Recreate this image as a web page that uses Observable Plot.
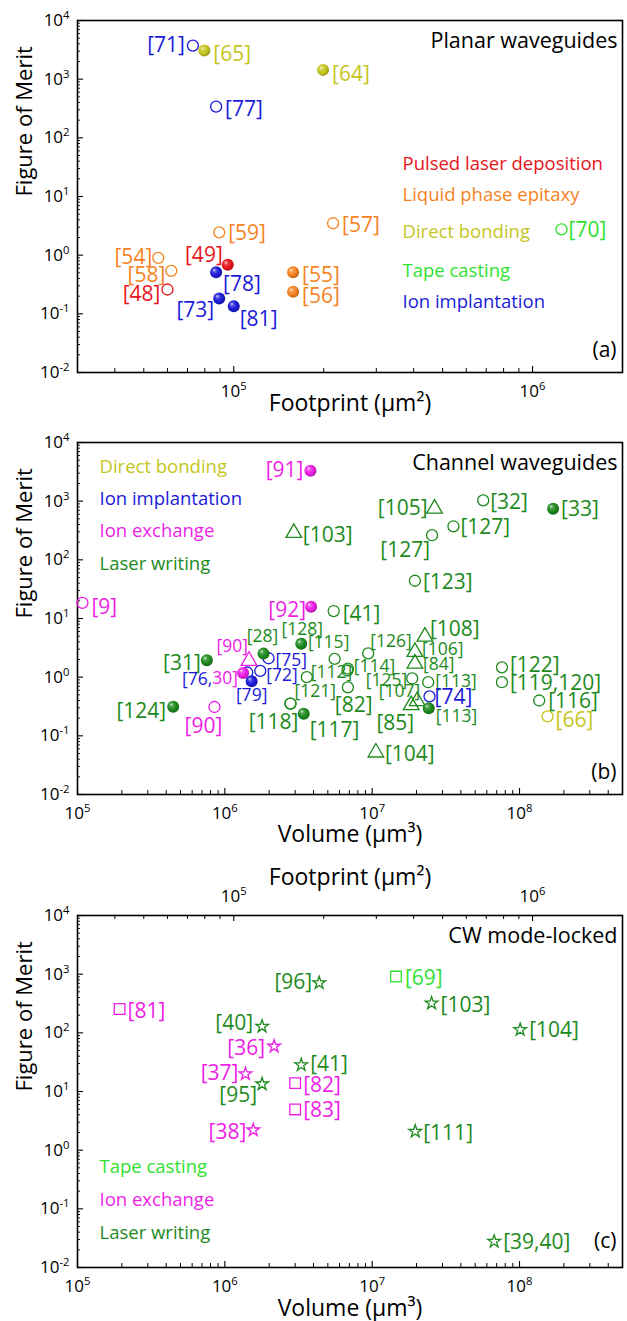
<!DOCTYPE html>
<html>
<head>
<meta charset="utf-8">
<script src="https://cdn.jsdelivr.net/npm/d3@7"></script>
<script src="https://cdn.jsdelivr.net/npm/@observablehq/plot@0.6"></script>
<style>
  html, body { margin: 0; padding: 0; background: #fff; }
  #wrap { width: 627px; }
  #wrap svg { display: block; }
</style>
</head>
<body>
<div id="wrap"></div>
<script>
// ---------------- colours per fabrication method ----------------
const methodColor = {
  PLD: "#e8141c", // Pulsed laser deposition
  LPE: "#f5831f", // Liquid phase epitaxy
  DB:  "#c5c51c", // Direct bonding
  TC:  "#2fe22f", // Tape casting
  II:  "#1a1ad8", // Ion implantation
  IE:  "#ee1ee6", // Ion exchange
  LW:  "#1d8a1d"  // Laser writing
};

// ---------------- panel (a): planar waveguides ----------------
const aRefs      = ["[71]","[65]","[64]","[77]","[57]","[59]","[70]","[54]","[49]","[58]","[78]","[55]","[48]","[56]","[73]","[81]"];
const aFootprint = [7.3e4, 7.97e4, 1.99e5, 8.73e4, 2.15e5, 8.94e4, 1.25e6, 5.59e4, 9.55e4, 6.18e4, 8.73e4, 1.58e5, 6.0e4, 1.58e5, 8.94e4, 1.0e5];
const aFOM       = [3740, 3076, 1440, 340, 3.5, 2.44, 2.75, 0.90, 0.685, 0.54, 0.51, 0.51, 0.26, 0.237, 0.183, 0.135];
const aMethod    = ["II","DB","DB","II","LPE","LPE","TC","LPE","PLD","LPE","II","LPE","PLD","LPE","II","II"];
const aMarker    = ["circle","sphere","sphere","circle","circle","circle","circle","circle","sphere","circle","sphere","sphere","circle","sphere","sphere","sphere"];
const aLegend    = [["Pulsed laser deposition","PLD"],["Liquid phase epitaxy","LPE"],["Direct bonding","DB"],["Tape casting","TC"],["Ion implantation","II"]];

// ---------------- panel (b): channel waveguides ----------------
const bRefs   = ["[9]","[91]","[105]","[32]","[33]","[103]","[127]","[127]","[123]","[92]","[41]","[108]","[106]","[84]","[126]","[128]","[115]","[28]","[75]","[90]","[31]","[72]","[76,","30]","[79]","[114]","","[112]","[82]","[125]","[113]","[122]","[119,120]","[74]","[107]","[85]","[113]","[116]","[66]","[121]","[118]","[117]","[124]","[90]","[104]"];
const bVolume = [1.08e5, 3.81e6, 2.65e7, 5.67e7, 1.69e8, 2.94e6, 3.56e7, 2.55e7, 1.95e7, 3.85e6, 5.48e6, 2.28e7, 1.95e7, 1.95e7, 9.4e6, 3.3e6, 5.56e6, 1.83e6, 1.98e6, 1.46e6, 7.55e5, 1.74e6, 1.42e6, 1.33e6, 1.52e6, 6.84e6, 6.8e6, 3.6e6, 6.84e6, 1.87e7, 2.4e7, 7.6e7, 7.6e7, 2.45e7, 2.02e7, 1.84e7, 2.42e7, 1.36e8, 1.55e8, 2.79e6, 2.79e6, 3.43e6, 4.46e5, 8.5e5, 1.06e7];
const bFOM    = [18.5, 3300, 745, 1030, 745, 288, 373, 263, 44, 15.8, 13.4, 4.9, 2.7, 1.7, 2.55, 3.7, 2.05, 2.52, 2.1, 1.9, 1.95, 1.28, 1.2, 1.18, 0.85, 1.4, 1.3, 1.0, 0.67, 0.95, 0.82, 1.47, 0.82, 0.47, 0.39, 0.334, 0.295, 0.40, 0.215, 0.355, 0.355, 0.238, 0.313, 0.31, 0.052];
const bMethod = ["IE","IE","LW","LW","LW","LW","LW","LW","LW","IE","LW","LW","LW","LW","LW","LW","LW","LW","II","IE","LW","II","II","IE","II","LW","LW","LW","LW","LW","LW","LW","LW","II","LW","LW","LW","LW","DB","LW","LW","LW","LW","IE","LW"];
const bMarker = ["circle","sphere","triangle","circle","sphere","triangle","circle","circle","circle","sphere","circle","triangle","triangle","triangle","circle","sphere","circle","sphere","circle","triangle","sphere","circle","circle","sphere","sphere","circle","circle","circle","circle","circle","circle","circle","circle","circle","triangle","triangle","sphere","circle","circle","circle","circle","sphere","sphere","circle","triangle"];
const bLegend = [["Direct bonding","DB"],["Ion implantation","II"],["Ion exchange","IE"],["Laser writing","LW"]];

// ---------------- panel (c): CW mode-locked ----------------
const cRefs   = ["[69]","[96]","[81]","[103]","[104]","[40]","[36]","[41]","[37]","[95]","[82]","[83]","[38]","[111]","[39,40]"];
const cVolume = [1.45e7, 4.37e6, 1.93e5, 2.53e7, 1.01e8, 1.79e6, 2.16e6, 3.3e6, 1.38e6, 1.79e6, 3.0e6, 3.0e6, 1.56e6, 1.96e7, 6.73e7];
const cFOM    = [910, 710, 255, 319, 113, 129, 58.9, 28.3, 19.9, 13.4, 13.9, 4.95, 2.2, 2.09, 0.0277];
const cMethod = ["TC","LW","IE","LW","LW","LW","IE","LW","IE","LW","IE","IE","IE","LW","LW"];
const cMarker = ["square","star","square","star","star","star","star","star","star","star","square","square","star","star","star"];
const cLegend = [["Tape casting","TC"],["Ion exchange","IE"],["Laser writing","LW"]];

// axis tick label exponents (major decades)
const fomDecades = [-2, -1, 0, 1, 2, 3, 4];

// ---------------- layout (label offsets in px: dx, dy, anchor, size "s" = small) ----------------
const aLabelAt = [[-8,0,"end"],[9,4,"start"],[9,4,"start"],[9,3,"start"],[9,2,"start"],[9,1,"start"],[7,1,"start"],[-6,-1,"end"],[-5,-10,"end"],[-6,4,"end"],[7,12,"start"],[9,3,"start"],[-7,5,"end"],[9,4,"start"],[-5,12,"end"],[6,13,"start"]];
const bLabelAt = [[9,4,"start"],[-7,0,"end"],[-7,0,"end"],[7,2,"start"],[8,1,"start"],[9,2,"start"],[7,1,"start"],[-2,15,"end"],[8,2,"start"],[-5,3,"end"],[9,3,"start"],[5,-7,"start"],
  [7,-2,"start","s"],[8,1,"start","s"],[2,-12,"start","s"],[1,-14,"middle","s"],[-6,-16,"middle","s"],[-1,-17,"middle","s"],[7,2,"start","s"],[-1,-14,"end","s"],
  [-6,3,"end"],[6,5,"start","s"],[-35,7,"end","s"],[-5,5,"end","s"],[0,14,"middle","s"],[6,-2,"start","s"],[0,0,"start"],[4,-5,"start","s"],[-13,18,"start"],[-5,2,"end","s"],[7,-1,"start","s"],
  [8,-2,"start"],[8,1,"start"],[5,1,"start"],[3,-10,"end","s"],[3,18,"end"],[7,8,"start","s"],[9,1,"start"],[8,4,"start"],[4,-12,"start","s"],[8,19,"end"],[6,17,"start"],[-7,5,"end"],[-11,19,"middle"],[9,2,"start"]];
const cLabelAt = [[9,2,"start"],[-7,-1,"end"],[8,2,"start"],[9,2,"start"],[9,1,"start"],[-9,-3,"end"],[-9,2,"end"],[9,-1,"start"],[-7,-1,"end"],[-5,11,"end"],[8,2,"start"],[8,1,"start"],[-7,2,"end"],[8,2,"start"],[9,1,"start"]];

const FONT = "Open Sans";
const W = 627, ML = 77, MR = 5, FRAME_H = 352;
const FRAME_W = W - ML - MR;
const LABEL_SIZE = 21, LABEL_SIZE_SMALL = 17.5;
const SYMBOL_R = {circle: 5.5, triangle: 5.8, square: 6, star: 4};

function rowsOf(refs, xs, ys, methods, markers, labelAt) {
  return refs.map((r, i) => ({label: r, x: xs[i], y: ys[i], method: methods[i], shape: markers[i], lab: labelAt[i]}));
}

function logTicks([lo, hi]) {
  const major = [], minor = [];
  for (let k = Math.floor(Math.log10(lo)); k <= Math.ceil(Math.log10(hi)); k++) {
    for (let m = 1; m <= 9; m++) {
      const v = m * Math.pow(10, k);
      if (v < lo * 0.999 || v > hi * 1.001) continue;
      (m === 1 ? major : minor).push(v);
    }
  }
  return {major, minor};
}

const exp10 = d => "10^" + Math.round(Math.log10(d));

function gradientDefs(prefix) {
  return Object.entries(methodColor).map(([m, c]) => {
    const hi = d3.interpolateRgb(c, "#fff")(0.85);
    const mid = d3.interpolateRgb(c, "#fff")(0.22);
    const dark = d3.color(c).darker(0.9).formatHex();
    return `<radialGradient id="${prefix}-${m}" cx="0.45" cy="0.45" r="0.6" fx="0.33" fy="0.3">
      <stop offset="0" stop-color="${hi}"/><stop offset="0.25" stop-color="${mid}"/>
      <stop offset="0.6" stop-color="${c}"/><stop offset="1" stop-color="${dark}"/></radialGradient>`;
  }).join("");
}

function pointMarks(rows, prefix) {
  const marks = [];
  for (const shape of ["circle", "triangle", "square", "star", "sphere"]) {
    for (const m of Object.keys(methodColor)) {
      const sub = rows.filter(d => d.shape === shape && d.method === m);
      if (!sub.length) continue;
      if (shape === "sphere") {
        marks.push(Plot.dot(sub, {x: "x", y: "y", r: 6, fill: `url(#${prefix}-${m})`, stroke: "none"}));
      } else {
        marks.push(Plot.dot(sub, {x: "x", y: "y", symbol: shape, r: SYMBOL_R[shape], fill: "none", stroke: methodColor[m], strokeWidth: 1.3}));
      }
    }
  }
  return marks;
}

function labelMarks(rows) {
  return rows.filter(d => d.label).map(d => Plot.text([d], {
    x: "x", y: "y", text: "label", dx: d.lab[0], dy: d.lab[1], textAnchor: d.lab[2],
    lineAnchor: "middle", fill: methodColor[d.method],
    fontSize: d.lab[3] === "s" ? LABEL_SIZE_SMALL : LABEL_SIZE
  }));
}

function supify(svg) {
  d3.select(svg).selectAll("text").each(function () {
    const m = /^10\^(-?\d+)$/.exec(this.textContent);
    if (!m) return;
    while (this.firstChild) this.removeChild(this.firstChild);
    this.appendChild(document.createTextNode("10"));
    const ts = document.createElementNS("http://www.w3.org/2000/svg", "tspan");
    ts.setAttribute("dy", "-0.62em");
    ts.setAttribute("font-size", "0.66em");
    ts.textContent = m[1];
    this.appendChild(ts);
  });
}

function panel(cfg) {
  const {rows, xDomain, height, marginTop, title, tag, tagDy, legend, legendDx, legendDy, xLabel, xLabelDy, topAxis, prefix} = cfg;
  const marginBottom = height - marginTop - FRAME_H;
  const yDomain = [1e-2, 1e4];
  const xt = logTicks(xDomain), yt = logTicks(yDomain);
  const marks = [
    Plot.frame({stroke: "#000", strokeWidth: 1.6}),
    Plot.ruleX(xt.major, {x: d => d, insetTop: FRAME_H - 6, stroke: "#000", strokeWidth: 1.1}),
    Plot.ruleX(xt.minor, {x: d => d, insetTop: FRAME_H - 4, stroke: "#000", strokeWidth: 1}),
    Plot.ruleY(yt.major, {y: d => d, insetRight: FRAME_W - 6, stroke: "#000", strokeWidth: 1.1}),
    Plot.ruleY(yt.minor, {y: d => d, insetRight: FRAME_W - 3, stroke: "#000", strokeWidth: 0.9}),
    Plot.axisX({ticks: xt.major, tickSize: 0, tickPadding: 12, tickFormat: exp10, fontSize: 17, label: null}),
    Plot.axisY({ticks: fomDecades.map(k => Math.pow(10, k)), tickSize: 0, tickPadding: 8, tickFormat: exp10, fontSize: 17, label: null}),
    Plot.text(["Figure of Merit"], {frameAnchor: "left", dx: -53, rotate: -90, fontSize: 22, fill: "#000"}),
    Plot.text([xLabel], {frameAnchor: "bottom", dy: xLabelDy, lineAnchor: "middle", fontSize: 23, fill: "#000"}),
    Plot.text([title], {frameAnchor: "top-right", dx: -5, dy: 21, textAnchor: "end", lineAnchor: "middle", fontSize: 21.5, fill: "#000"}),
    Plot.text([tag], {frameAnchor: "bottom-right", dx: -6, dy: tagDy, textAnchor: "end", lineAnchor: "middle", fontSize: 21, fill: "#000"}),
    ...legend.map(([name, m], i) => Plot.text([name], {frameAnchor: "top-left", dx: legendDx, dy: legendDy[i], textAnchor: "start", lineAnchor: "middle", fontSize: 18.5, fill: methodColor[m]})),
    ...pointMarks(rows, prefix),
    ...labelMarks(rows)
  ];
  if (topAxis) {
    const ft = logTicks(topAxis.domain);
    marks.push(
      Plot.ruleX(ft.major.map(topAxis.toX), {x: d => d, insetBottom: FRAME_H - 6, stroke: "#000", strokeWidth: 1.1}),
      Plot.ruleX(ft.minor.map(topAxis.toX), {x: d => d, insetBottom: FRAME_H - 4, stroke: "#000", strokeWidth: 1}),
      Plot.axisX({anchor: "top", ticks: ft.major.map(topAxis.toX), tickSize: 0, tickPadding: 14, tickFormat: d => exp10(topAxis.fromX(d)), fontSize: 17, label: null}),
      Plot.text([topAxis.label], {frameAnchor: "top", dy: -38, lineAnchor: "middle", fontSize: 23, fill: "#000"})
    );
  }
  const svg = Plot.plot({
    width: W, height, marginTop, marginBottom, marginLeft: ML, marginRight: MR,
    style: {fontFamily: FONT, fontSize: "16px", color: "#000", background: "#fff", overflow: "visible"},
    x: {type: "log", domain: xDomain, nice: false},
    y: {type: "log", domain: yDomain, nice: false},
    marks
  });
  d3.select(svg).insert("defs", ":first-child").html(gradientDefs(prefix));
  supify(svg);
  return svg;
}

const wrap = document.getElementById("wrap");

const fpDomain = [3e4, 2e6], volDomain = [1e5, 5e8];
const lf = fpDomain.map(Math.log10), lv = volDomain.map(Math.log10);
const fpToVol = f => Math.pow(10, lv[0] + (Math.log10(f) - lf[0]) * (lv[1] - lv[0]) / (lf[1] - lf[0]));
const volToFp = v => Math.pow(10, lf[0] + (Math.log10(v) - lv[0]) * (lf[1] - lf[0]) / (lv[1] - lv[0]));

wrap.appendChild(panel({
  prefix: "sa",
  rows: rowsOf(aRefs, aFootprint, aFOM, aMethod, aMarker, aLabelAt),
  xDomain: fpDomain, height: 430, marginTop: 20,
  title: "Planar waveguides", tag: "(a)", tagDy: -22,
  legend: aLegend, legendDx: 325, legendDy: [144, 175, 212, 251, 282],
  xLabel: "Footprint (µm²)", xLabelDy: 31
}));

wrap.appendChild(panel({
  prefix: "sb",
  rows: rowsOf(bRefs, bVolume, bFOM, bMethod, bMarker, bLabelAt),
  xDomain: volDomain, height: 430, marginTop: 12,
  title: "Channel waveguides", tag: "(b)", tagDy: -22,
  legend: bLegend, legendDx: 22, legendDy: [25, 57, 89, 122],
  xLabel: "Volume (µm³)", xLabelDy: 40
}));

wrap.appendChild(panel({
  prefix: "sc",
  rows: rowsOf(cRefs, cVolume, cFOM, cMethod, cMarker, cLabelAt),
  xDomain: volDomain, height: 461, marginTop: 55,
  title: "CW mode-locked", tag: "(c)", tagDy: -26,
  legend: cLegend, legendDx: 22, legendDy: [252, 285, 318],
  xLabel: "Volume (µm³)", xLabelDy: 41,
  topAxis: {domain: fpDomain, toX: fpToVol, fromX: volToFp, label: "Footprint (µm²)"}
}));
</script>
</body>
</html>
